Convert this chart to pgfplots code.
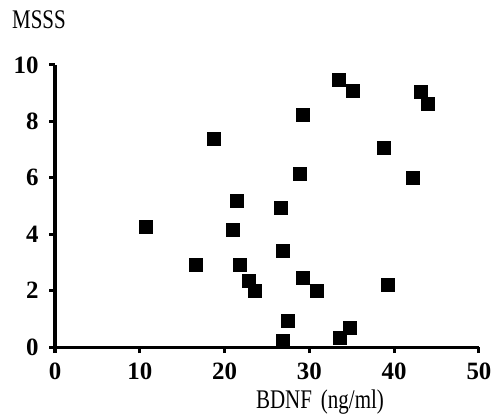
\documentclass[border=0pt]{standalone}
\usepackage{fontspec}
\setmainfont{Liberation Serif}
\newfontfamily\labelfont[FakeStretch=0.78]{Liberation Serif}
\usepackage{pgfplots}
\pgfplotsset{compat=1.18}

\begin{document}
\begin{tikzpicture}
\useasboundingbox (-55bp,-67bp) rectangle (437bp,347bp);
\node[font=\labelfont\fontsize{27}{27}\selectfont, anchor=base] at (-16bp,318bp) {MSSS};
\node[font=\labelfont\fontsize{27}{27}\selectfont, anchor=base] at (265bp,-61bp) {BDNF\hspace{9bp}(ng/ml)\hspace{4bp}};
\begin{axis}[
    at={(0,0)}, anchor=south west,
    scale only axis, width=424bp, height=282bp,
    xmin=0, xmax=50, ymin=0, ymax=10,
    axis x line*=bottom, axis y line*=left,
    axis line style={line width=3bp, black},
    xtick={0,10,...,50}, ytick={0,2,...,10},
    tick style={line width=3bp, black},
    major tick length=6bp,
    tick align=outside,
    ticklabel style={font=\fontsize{25}{25}\selectfont\bfseries},
    xticklabel style={yshift=-6bp},
    yticklabel style={xshift=-7bp},
    /pgf/number format/assume math mode=true,
    clip=false,
]
\addplot[only marks, mark=square*, mark size=6.5bp, black] coordinates {
    (10.7,4.27) (16.6,2.91) (18.7,7.4) (20.9,4.17) (21.4,5.2)
    (21.8,2.91) (22.9,2.35) (23.5,1.99) (26.6,4.94) (26.9,3.4)
    (26.8,0.22) (27.5,0.93) (28.9,6.13) (29.2,8.23) (29.2,2.44)
    (30.9,1.99) (33.4,9.47) (33.6,0.34) (34.7,0.67) (35.1,9.08)
    (38.8,7.07) (39.2,2.21) (42.2,5.99) (43.1,9.05) (44.0,8.62)
};
\end{axis}
\end{tikzpicture}
\end{document}
